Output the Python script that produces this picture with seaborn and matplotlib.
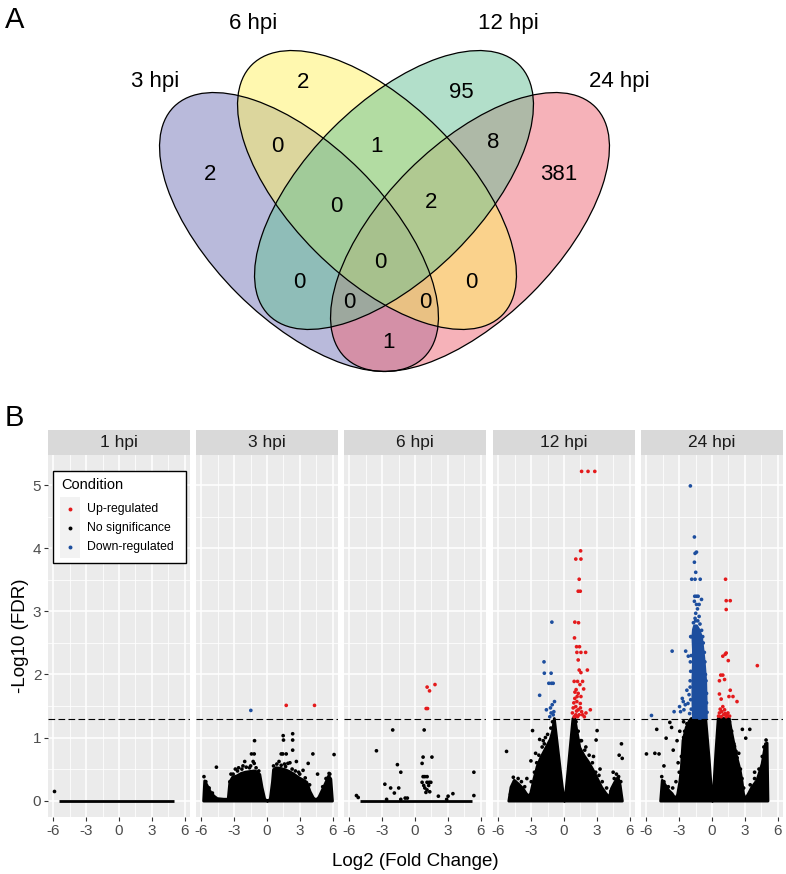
import math
import pandas as pd
import seaborn as sns
import matplotlib.pyplot as plt
from matplotlib.patches import Ellipse, Rectangle

plt.rcParams['font.family'] = ['Liberation Sans', 'DejaVu Sans']

# ---------------- Panel A data (Venn) ----------------
venn_sets = ["3 hpi", "6 hpi", "12 hpi", "24 hpi"]
venn_colors = ["#7577B9", "#FFF361", "#67C197", "#EF6775"]
venn_regions = ["3", "6", "12", "24", "3&6", "6&12", "12&24", "3&6&12", "6&12&24",
                "3&12", "3&6&12&24", "6&24", "3&12&24", "3&6&24", "3&24"]
venn_counts = [2, 2, 95, 381, 0, 1, 8, 0, 2, 0, 0, 0, 0, 0, 1]

# ---------------- Panel B data (volcano) ----------------
panels = ["1 hpi", "3 hpi", "6 hpi", "12 hpi", "24 hpi"]
fdr_cut = 0.05

# up-regulated (red) points
up_x_3 = [1.76, 4.35]
up_y_3 = [1.51, 1.51]
up_x_6 = [1.11, 1.83, 1.33, 1.02, 1.15]
up_y_6 = [1.80, 1.84, 1.74, 1.46, 1.46]
up_x_12 = [1.61, 2.20, 2.82, 1.52, 1.08, 1.55, 1.39, 1.30, 1.49, 0.99, 1.33, 0.96, 1.15, 1.42,
           1.18, 1.55, 1.98, 1.30, 1.39, 2.14, 1.55, 0.93, 1.24, 1.70, 1.46, 1.80, 1.11, 1.30,
           1.55, 0.99, 1.18, 1.49, 1.08, 0.84, 1.30, 1.61, 0.77, 1.08, 1.39, 1.70, 2.41, 2.01,
           0.93, 1.24, 1.86, 1.00, 1.20, 0.90, 1.50, 1.15]
up_y_12 = [5.22, 5.22, 5.22, 3.96, 3.83, 3.83, 3.51, 3.32, 3.32, 2.83, 2.82, 2.58, 2.44, 2.44,
           2.35, 2.35, 2.35, 2.23, 2.07, 2.07, 2.03, 1.89, 1.89, 1.89, 1.84, 1.77, 1.76, 1.70,
           1.65, 1.62, 1.57, 1.54, 1.49, 1.47, 1.44, 1.41, 1.39, 1.36, 1.36, 1.36, 1.44, 1.39,
           1.33, 1.33, 1.33, 1.72, 1.65, 1.55, 1.47, 1.42]
up_x_24 = [1.24, 1.30, 1.67, 1.30, 0.99, 1.21, 1.30, 1.49, 4.15, 0.80, 0.99, 1.15, 0.68, 1.67,
           1.55, 1.92, 2.29, 0.68, 0.84, 0.99, 1.15, 0.68, 0.84, 1.30, 1.46, 1.61, 1.05, 0.60,
           0.75, 1.20, 0.90, 1.40]
up_y_24 = [3.51, 3.17, 3.17, 3.03, 2.29, 2.32, 2.34, 2.22, 2.14, 1.99, 1.99, 1.92, 1.90, 1.75,
           1.65, 1.65, 1.57, 1.69, 1.61, 1.49, 1.44, 1.39, 1.33, 1.33, 1.39, 1.34, 1.36, 1.34,
           1.45, 1.38, 1.41, 1.35]

# down-regulated (blue) points
down_x_3 = [-1.48]
down_y_3 = [1.43]
down_x_12 = [-1.11, -1.83, -1.80, -1.18, -1.39, -1.15, -0.99, -2.23, -0.87, -1.08, -1.24, -1.61,
             -0.93, -1.18, -0.99, -1.30]
down_y_12 = [2.83, 2.20, 2.02, 2.02, 1.86, 1.86, 1.86, 1.67, 1.57, 1.52, 1.47, 1.44,
             1.41, 1.39, 1.36, 1.33]
down_x_24 = [-1.98, -1.61, -1.55, -1.42, -1.61, -1.49, -1.86, -1.55, -1.08, -1.58, -1.42, -1.27,
             -0.96, -1.61, -1.42, -1.18, -1.33, -1.49, -1.18, -1.55, -1.30, -1.70, -3.65, -2.41,
             -2.17, -2.72, -2.63, -2.97, -2.57, -3.47, -2.88, -5.54, -2.20, -2.10, -2.00, -1.95,
             -1.98, -2.30, -2.45, -1.90, -0.50, -0.55, -0.65, -0.80, -0.95, -1.90, -2.05,
             -1.95, -2.00, -1.90, -1.95, -0.45, -0.50, -0.60, -0.70, -0.85, -1.10, -1.50]
down_y_24 = [4.99, 4.18, 3.92, 3.94, 3.78, 3.62, 3.51, 3.51, 3.51, 3.24, 3.24, 3.24,
             3.19, 3.16, 3.11, 3.11, 3.04, 2.97, 2.92, 2.89, 2.85, 2.82, 2.37, 2.37,
             2.29, 1.62, 1.57, 1.49, 1.44, 1.41, 1.41, 1.35, 1.54, 1.68, 1.80, 2.05,
             2.20, 1.75, 1.52, 1.45, 1.55, 1.90, 2.20, 2.50, 2.70, 2.60, 1.38,
             1.60, 1.90, 2.30, 2.60, 1.40, 1.70, 2.00, 2.35, 2.60, 2.80, 2.85]
# dense core of the 24 hpi down-regulated column
down_core_24_y = [1.31, 1.60, 1.90, 2.20, 2.40, 2.60, 2.72, 2.78]
down_core_24_left = [-1.75, -1.80, -1.80, -1.75, -1.75, -1.80, -1.75, -1.65]
down_core_24_right = [-0.56, -0.58, -0.62, -0.75, -0.87, -1.00, -1.25, -1.45]

# no-significance (black) scattered points
ns_x_1 = [-5.94]
ns_y_1 = [0.15]
ns_x_3 = [-1.14, 1.48, 1.51, 2.35, 2.35, 2.35, -1.42, -1.17, 1.30, 1.45, 1.76, 4.20, 6.14, -2.04,
          -1.27, -1.17, -4.63, 1.91, 2.69, 3.77, 4.63, 5.68, -5.77, -2.90, -2.60, -2.20, -1.60,
          1.10, 1.60, 2.10, 2.90, 3.30, -3.30, 5.40,
          -3.40, -3.10, -2.70, -2.30, -1.90, -1.50, -1.00, -0.75, 0.60, 0.90, 1.30, 1.70, 2.30,
          2.60, 3.00, 3.50, 3.90, 5.10, 5.50, 5.75, -5.60, -5.30, -5.00]
ns_y_3 = [0.95, 1.03, 0.96, 0.96, 1.06, 0.80, 0.74, 0.74, 0.74, 0.74, 0.74, 0.74, 0.73, 0.62,
          0.62, 0.59, 0.53, 0.59, 0.62, 0.59, 0.42, 0.43, 0.38, 0.50, 0.52, 0.55, 0.52,
          0.62, 0.58, 0.60, 0.45, 0.48, 0.42, 0.35,
          0.30, 0.42, 0.47, 0.50, 0.53, 0.55, 0.52, 0.47, 0.55, 0.58, 0.56, 0.54, 0.50,
          0.47, 0.42, 0.36, 0.25, 0.22, 0.35, 0.42, 0.30, 0.20, 0.12]
ns_x_6 = [-2.04, 0.84, -3.53, 0.74, 1.55, 0.65, -1.61, -1.30, 5.39, 0.74, 0.90, 1.11, 0.65, 1.10,
          1.45, 1.30, -2.76, -2.23, -1.49, -1.89, 0.90, 1.10, 1.35, 1.00, 2.14, 3.03, 3.47, 5.39,
          -5.36, -5.20, -0.90, -0.70, -2.60, 2.90, -1.30, 0.80, 1.25]
ns_y_6 = [1.12, 1.12, 0.79, 0.69, 0.69, 0.59, 0.57, 0.45, 0.45, 0.38, 0.38, 0.38, 0.29, 0.29,
          0.29, 0.29, 0.26, 0.20, 0.20, 0.12, 0.20, 0.17, 0.14, 0.13, 0.07, 0.07, 0.11, 0.08,
          0.08, 0.05, 0.04, 0.04, 0.02, 0.02, 0.02, 0.24, 0.24]
ns_x_12 = [-5.26, -2.88, -3.03, -2.23, 3.03, 5.26, 5.33, 5.05, -4.64, -1.90, -1.50, -1.20, 1.30,
           1.60, 2.00, 2.70, 3.30, -2.60, -3.40, 4.50, -1.70, 1.10, -1.05, 2.94,
           -3.00, -2.70, -2.50, -2.30, -2.00, -1.80, 1.50, 1.90, 2.30, 2.60, 2.90, 3.20, 3.50,
           3.90, -4.90, -4.50, -4.20, -3.90, -3.60, 4.30, 4.60, 4.80, 5.00, 5.20]
ns_y_12 = [0.78, 1.11, 0.63, 0.97, 1.11, 0.90, 0.67, 0.72, 0.37, 0.95, 1.05, 1.15, 1.10,
           0.95, 0.85, 0.70, 0.50, 0.75, 0.35, 0.45, 1.00, 1.25, 1.25, 0.96,
           0.30, 0.45, 0.60, 0.72, 0.85, 0.90, 0.95, 0.80, 0.72, 0.60, 0.45, 0.40, 0.30,
           0.20, 0.10, 0.30, 0.35, 0.30, 0.22, 0.15, 0.35, 0.42, 0.38, 0.30]
ns_x_24 = [-3.70, -5.06, -4.20, -6.00, -5.23, -4.85, -3.55, -3.86, 2.78, 3.46, 3.09, 2.06, 2.20,
           -3.20, -2.95, 1.80, 2.45, 3.90, -4.40, -2.60,
           -2.80, -2.60, -2.30, -3.00, -3.30, -3.60, -4.00, -4.40, -4.60, -3.10, -2.50,
           1.75, 2.00, 2.30, 2.60, 2.75, 2.90, 3.50, 3.90, 4.30, 4.60, 4.75, 4.95, 1.60]
ns_y_24 = [1.16, 1.13, 0.99, 0.74, 0.75, 0.74, 0.80, 1.24, 1.13, 1.13, 0.99, 0.86, 0.78,
           0.95, 1.10, 1.10, 0.75, 0.45, 0.55, 1.25,
           0.70, 1.00, 1.22, 0.45, 0.30, 0.20, 0.22, 0.30, 0.38, 0.60, 1.10,
           1.10, 0.90, 0.68, 0.50, 0.35, 0.20, 0.25, 0.35, 0.50, 0.70, 0.85, 0.96, 1.25]

# upper outline of the dense no-significance cloud in each panel
cloud_x_1 = [-5.48, 5.02]
cloud_y_1 = [0.0, 0.0]
cloud_x_3 = [-5.85, -5.75, -5.5, -5.2, -4.9, -4.6, -4.0, -3.6, -3.45, -3.2, -2.8, -2.4, -2.0, -1.6,
             -1.2, -0.9, -0.7, -0.5, -0.25, 0.0, 0.25, 0.45, 0.55, 0.8, 1.2, 1.6, 2.0, 2.4, 2.8,
             3.2, 3.6, 3.9, 4.2, 4.45, 4.7, 5.0, 5.3, 5.6, 5.8, 5.95]
cloud_y_3 = [0.0, 0.32, 0.24, 0.14, 0.08, 0.04, 0.03, 0.03, 0.30, 0.38, 0.40, 0.44, 0.46, 0.47,
             0.48, 0.46, 0.42, 0.22, 0.03, 0.0, 0.03, 0.30, 0.50, 0.53, 0.52, 0.50, 0.47, 0.43, 0.38,
             0.34, 0.30, 0.15, 0.05, 0.02, 0.06, 0.17, 0.28, 0.40, 0.35, 0.0]
cloud_x_6 = [-5.08, 5.23]
cloud_y_6 = [0.0, 0.0]
cloud_x_12 = [-5.1, -4.9, -4.6, -4.2, -3.8, -3.5, -3.3, -3.1, -2.8, -2.5, -2.2, -1.9, -1.6, -1.3,
              -1.1, -0.93, -0.6, -0.3, -0.05, 0.0, 0.05, 0.3, 0.6, 0.77, 0.95, 1.1, 1.4, 1.8, 2.2,
              2.6, 3.0, 3.4, 3.8, 4.1, 4.3, 4.6, 4.9, 5.1, 5.3]
cloud_y_12 = [0.0, 0.22, 0.33, 0.27, 0.20, 0.12, 0.08, 0.12, 0.35, 0.55, 0.68, 0.78, 0.88, 0.98,
              1.10, 1.31, 0.82, 0.37, 0.02, 0.0, 0.02, 0.45, 1.00, 1.31, 1.31, 1.15, 0.85, 0.72, 0.62,
              0.50, 0.36, 0.22, 0.12, 0.06, 0.20, 0.30, 0.38, 0.25, 0.0]
cloud_x_24 = [-4.75, -4.6, -4.3, -4.0, -3.7, -3.4, -3.2, -3.0, -2.85, -2.7, -2.4, -2.1, -1.94, -0.62,
              -0.3, -0.05, 0.0, 0.05, 0.3, 0.52, 1.54, 1.67, 1.91, 2.22, 2.53, 2.69, 2.84, 3.0, 3.3,
              3.6, 4.07, 4.54, 4.85, 5.0, 5.08]
cloud_y_24 = [0.0, 0.33, 0.25, 0.17, 0.12, 0.04, 0.10, 0.30, 0.54, 0.96, 1.17, 1.28, 1.31, 1.31,
              0.66, 0.05, 0.0, 0.05, 0.76, 1.31, 1.31, 1.17, 0.96, 0.70, 0.49, 0.33, 0.12, 0.03, 0.12,
              0.22, 0.33, 0.59, 0.91, 0.92, 0.0]

cond_names = ["Up-regulated", "No significance", "Down-regulated"]
cond_colors = {"Up-regulated": "#E41A1C", "No significance": "#000000", "Down-regulated": "#1D4E9E"}

up_x = [[], up_x_3, up_x_6, up_x_12, up_x_24]
up_y = [[], up_y_3, up_y_6, up_y_12, up_y_24]
down_x = [[], down_x_3, [], down_x_12, down_x_24]
down_y = [[], down_y_3, [], down_y_12, down_y_24]
ns_x = [ns_x_1, ns_x_3, ns_x_6, ns_x_12, ns_x_24]
ns_y = [ns_y_1, ns_y_3, ns_y_6, ns_y_12, ns_y_24]
cloud_x = [cloud_x_1, cloud_x_3, cloud_x_6, cloud_x_12, cloud_x_24]
cloud_y = [cloud_y_1, cloud_y_3, cloud_y_6, cloud_y_12, cloud_y_24]

# ---------------- figure ----------------
W, H = 786, 874
fig = plt.figure(figsize=(W / 100, H / 100), dpi=100)


def px_axes(left, top, width, height):
    return fig.add_axes([left / W, 1 - (top + height) / H, width / W, height / H])


# ---- Panel A: Venn diagram (axes in pixel units) ----
axv = px_axes(0, 0, W, 430)
axv.set_xlim(0, W)
axv.set_ylim(430, 0)
axv.axis("off")

ell_center = [(299, 232), (377, 190), (394, 190), (470, 232)]
ell_angle = [45, 45, -45, -45]
ell_w, ell_h = 354, 174
draw_order = [0, 3, 1, 2]
for i in draw_order:
    axv.add_patch(Ellipse(ell_center[i], ell_w, ell_h, angle=ell_angle[i],
                          facecolor=venn_colors[i], alpha=0.5, edgecolor="none"))
for i in range(4):
    axv.add_patch(Ellipse(ell_center[i], ell_w, ell_h, angle=ell_angle[i],
                          facecolor="none", edgecolor="black", lw=0.9))

set_label_pos = [(155, 82), (253, 23), (508, 23), (619, 82)]
for name, (lx, ly) in zip(venn_sets, set_label_pos):
    axv.text(lx, ly, name, fontsize=16, ha="center", va="center")

region_pos = [(210, 175), (303, 82), (461, 93), (559, 175), (277, 147), (377, 147), (493, 142),
              (336, 207), (431, 203), (299, 283), (380, 262), (471, 283), (349, 303), (425, 303),
              (389, 343)]
for cnt, (rx, ry) in zip(venn_counts, region_pos):
    axv.text(rx, ry, str(cnt), fontsize=16, ha="center", va="center")

fig.text(5 / W, 1 - 20 / H, "A", fontsize=21, ha="left", va="center")
fig.text(5 / W, 1 - 418 / H, "B", fontsize=21, ha="left", va="center")

# ---- Panel B: volcano facets ----
panel_left = [48, 196, 344, 493, 641]
panel_top, panel_w, panel_h = 455, 142, 362
strip_h = 25
x_lim = (-6.5, 6.5)
y_lim = (-0.26, 5.48)
cut_y = -math.log10(fdr_cut)

axes = []
for k, name in enumerate(panels):
    ax = px_axes(panel_left[k], panel_top, panel_w, panel_h)
    axes.append(ax)
    ax.set_facecolor("#EBEBEB")
    for s in ax.spines.values():
        s.set_visible(False)
    ax.set_xlim(*x_lim)
    ax.set_ylim(*y_lim)
    ax.set_xticks([-6, -3, 0, 3, 6])
    ax.set_xticks([-4.5, -1.5, 1.5, 4.5], minor=True)
    ax.set_yticks([0, 1, 2, 3, 4, 5])
    ax.set_yticks([0.5, 1.5, 2.5, 3.5, 4.5], minor=True)
    ax.grid(which="major", color="white", lw=1.1)
    ax.grid(which="minor", color="white", lw=0.55)
    ax.set_axisbelow(True)
    ax.tick_params(which="major", length=2.8, width=0.8, color="#333333",
                   labelsize=11, labelcolor="#4D4D4D", pad=2)
    ax.tick_params(which="minor", length=0)
    ax.set_xticklabels(["-6", "-3", "0", "3", "6"])
    if k == 0:
        ax.set_yticklabels(["0", "1", "2", "3", "4", "5"])
    else:
        ax.tick_params(axis="y", which="both", left=False, labelleft=False)

    # dense no-significance cloud
    ax.fill_between(cloud_x[k], 0, cloud_y[k], facecolor="black", edgecolor="black",
                    lw=2.0, zorder=2)
    if k == 4:
        ax.fill_betweenx(down_core_24_y, down_core_24_left, down_core_24_right,
                         facecolor=cond_colors["Down-regulated"],
                         edgecolor=cond_colors["Down-regulated"], lw=2.0, zorder=2)

    df = pd.concat([
        pd.DataFrame({"x": ns_x[k], "y": ns_y[k], "Condition": "No significance"}),
        pd.DataFrame({"x": up_x[k], "y": up_y[k], "Condition": "Up-regulated"}),
        pd.DataFrame({"x": down_x[k], "y": down_y[k], "Condition": "Down-regulated"}),
    ], ignore_index=True)
    sns.scatterplot(data=df, x="x", y="y", hue="Condition", palette=cond_colors,
                    s=7, linewidth=0, legend=False, ax=ax, zorder=3)
    ax.set_xlabel("")
    ax.set_ylabel("")

    ax.axhline(cut_y, color="black", ls=(0, (6, 3)), lw=0.8, zorder=4)

    # facet strip
    ax.add_patch(Rectangle((0, 1), 1, strip_h / panel_h, transform=ax.transAxes,
                           facecolor="#D9D9D9", edgecolor="none", clip_on=False))
    ax.text(0.5, 1 + strip_h / panel_h / 2, name, transform=ax.transAxes,
            ha="center", va="center", fontsize=12.5, color="#1A1A1A")

# legend drawn inside the first facet
ax0 = axes[0]
fx = lambda px: (px - panel_left[0]) / panel_w
fy = lambda py: 1 - (py - panel_top) / panel_h
ax0.add_patch(Rectangle((fx(53), fy(563)), fx(186) - fx(53), fy(471) - fy(563),
                        transform=ax0.transAxes, facecolor="white", edgecolor="black",
                        lw=1.0, zorder=5))
ax0.text(fx(61), fy(485), "Condition", transform=ax0.transAxes, fontsize=10.5,
         ha="left", va="center", zorder=6)
ax0.add_patch(Rectangle((fx(60), fy(558)), fx(80) - fx(60), fy(497) - fy(558),
                        transform=ax0.transAxes, facecolor="#F2F2F2", edgecolor="none",
                        zorder=6))
for name, py in zip(cond_names, [509, 528, 547]):
    ax0.scatter([fx(70)], [fy(py)], s=8, color=cond_colors[name], transform=ax0.transAxes,
                zorder=7, linewidth=0, clip_on=False)
    ax0.text(fx(87), fy(py), name, transform=ax0.transAxes, fontsize=8.8,
             ha="left", va="center", zorder=7)

fig.text(415 / W, 1 - 862 / H, "Log2 (Fold Change)", fontsize=13.5, ha="center", va="center")
fig.text(21 / W, 1 - 636 / H, "-Log10 (FDR)", fontsize=13.5, ha="center", va="center",
         rotation=90)

fig.savefig("out.png", dpi=100)
